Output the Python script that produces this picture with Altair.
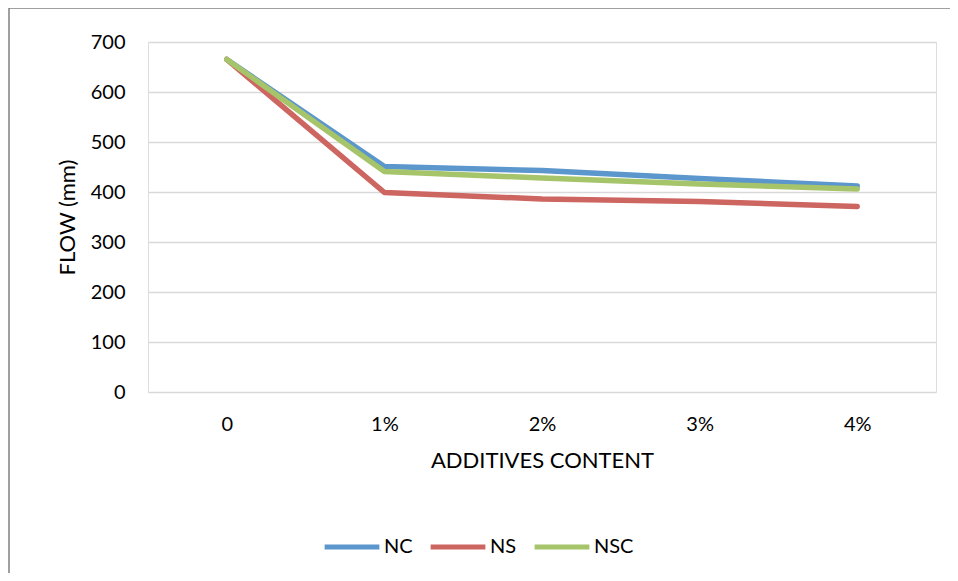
import altair as alt
import pandas as pd

categories = ["0", "1%", "2%", "3%", "4%"]
nc = [665, 451, 443, 427, 412]
ns = [665, 399, 386, 381, 371]
nsc = [665, 441, 428, 416, 406]
series = ["NC", "NS", "NSC"]
colors = ["#5B96CC", "#CD6560", "#A6C46A"]

rows = []
for name, vals in zip(series, [nc, ns, nsc]):
    for i, (c, v) in enumerate(zip(categories, vals)):
        rows.append({"content": c, "flow": v, "series": name, "order": i})
df = pd.DataFrame(rows)

FONT = "Lato"
LFS = 20
TFS = 22

lines = alt.Chart(df).mark_line(strokeWidth=5.5, strokeCap="round", strokeJoin="round").encode(
    x=alt.X("content:N", sort=categories,
            scale=alt.Scale(type="point", padding=0.5),
            axis=alt.Axis(title="ADDITIVES CONTENT", labelAngle=0, domain=False, ticks=False,
                          grid=False, labelPadding=22, titlePadding=16,
                          labelFontSize=LFS, titleFontSize=TFS, labelFont=FONT, titleFont=FONT,
                          labelColor="#000000", titleColor="#000000", titleFontWeight="normal")),
    y=alt.Y("flow:Q", scale=alt.Scale(domain=[0, 700], nice=False),
            axis=alt.Axis(title="FLOW (mm)", values=[0, 100, 200, 300, 400, 500, 600, 700],
                          domain=False, ticks=False, grid=True, gridColor="#D9D9D9", gridWidth=1.5,
                          labelPadding=23, titlePadding=11,
                          labelFontSize=LFS, titleFontSize=TFS, labelFont=FONT, titleFont=FONT,
                          labelColor="#000000", titleColor="#000000", titleFontWeight="normal")),
    color=alt.Color("series:N", scale=alt.Scale(domain=series, range=colors),
                    legend=alt.Legend(title=None, orient="none", direction="horizontal",
                                      legendX=174, legendY=475, symbolType="stroke",
                                      symbolSize=3000, symbolStrokeWidth=5,
                                      labelFontSize=LFS, labelFont=FONT, labelColor="#000000",
                                      columnPadding=7, labelOffset=2)),
    order=alt.Order("order:Q"),
)

frame = alt.Chart(alt.Data(values=[{}])).mark_rule(color="#808080", strokeWidth=1.5).encode(
    x=alt.value(-139), y=alt.value(-34), y2=alt.value(700)
)
frame_top = alt.Chart(alt.Data(values=[{}])).mark_rule(color="#808080", strokeWidth=1.5).encode(
    x=alt.value(-139), x2=alt.value(1000), y=alt.value(-34)
)

chart = alt.layer(frame, frame_top, lines).properties(
    width=788, height=350,
    autosize=alt.AutoSizeParams(type="none"),
    padding={"left": 140, "top": 34, "right": 14, "bottom": 181},
).configure_view(stroke=None).configure(background="white")

chart.save("out.html", embed_options={"renderer": "svg", "actions": False})
